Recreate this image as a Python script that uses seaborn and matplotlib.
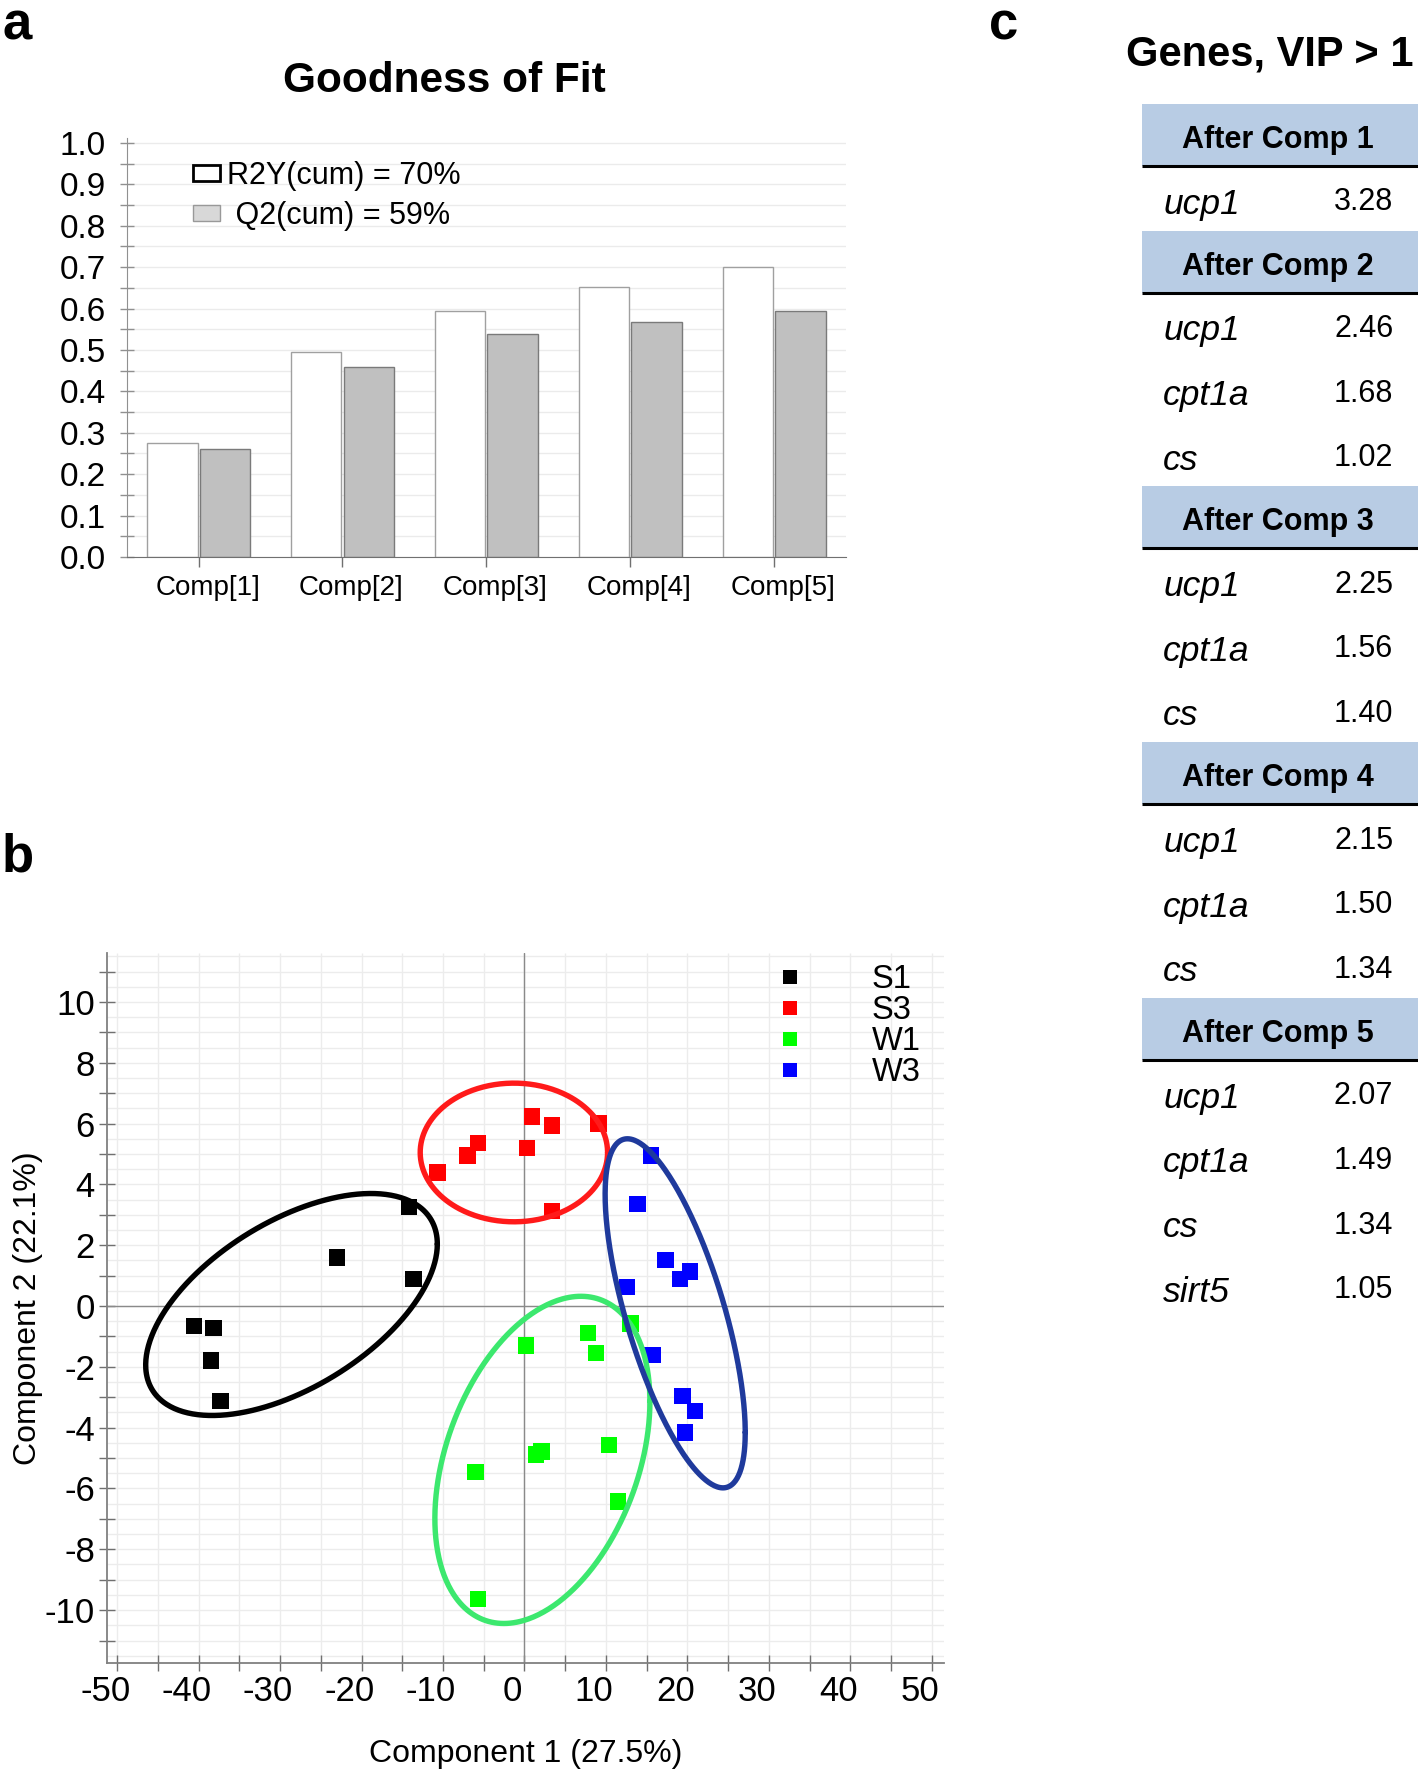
import numpy as np
import pandas as pd
import matplotlib
matplotlib.use('Agg')
import matplotlib.pyplot as plt
import matplotlib.transforms as mtransforms
from matplotlib.patches import Patch, Rectangle
from matplotlib.lines import Line2D
from matplotlib.ticker import MultipleLocator
import seaborn as sns

# pannello a: goodness of fit
components = ['Comp[1]', 'Comp[2]', 'Comp[3]', 'Comp[4]', 'Comp[5]']
r2y_cum = [0.275, 0.494, 0.594, 0.652, 0.700]
q2_cum = [0.261, 0.459, 0.539, 0.567, 0.594]
fit_labels = ['R2Y(cum) = 70%', ' Q2(cum) = 59%']

# pannello b: score plot
groups = ['S1', 'S3', 'W1', 'W3']
s1_x = [-40.6, -38.2, -38.5, -37.3, -23.0, -14.2, -13.6]
s1_y = [-0.66, -0.73, -1.79, -3.13, 1.59, 3.25, 0.88]
s3_x = [-10.7, -7.0, -5.7, 0.3, 0.9, 3.35, 9.1, 3.35]
s3_y = [4.39, 4.95, 5.36, 5.20, 6.23, 5.93, 6.00, 3.13]
w1_x = [0.2, 7.8, 8.8, 13.0, 1.4, 2.1, 10.4, 11.5, -6.0, -5.7]
w1_y = [-1.30, -0.89, -1.54, -0.57, -4.88, -4.78, -4.57, -6.43, -5.45, -9.63]
w3_x = [15.5, 13.9, 17.3, 20.3, 19.1, 12.6, 15.7, 19.4, 20.9, 19.7]
w3_y = [4.95, 3.36, 1.52, 1.13, 0.88, 0.63, -1.61, -2.96, -3.45, -4.16]
x_label = 'Component 1 (27.5%)'
y_label = 'Component 2 (22.1%)'

# ellissi disegnate a mano: centro, semi-estensioni, fase (gradi)
ell_cx = [-28.6, -1.3, 2.2, 18.5]
ell_cy = [0.05, 5.05, -5.06, -0.24]
ell_ax = [17.9, 11.5, 13.2, 8.6]
ell_ay = [3.65, 2.28, 5.38, 5.74]
ell_phase = [57, 90, 69, 133]

# pannello c: tabella VIP
table_title = 'Genes, VIP > 1'
sections = ['After Comp 1', 'After Comp 2', 'After Comp 3', 'After Comp 4', 'After Comp 5']
vip_genes = [['ucp1'],
             ['ucp1', 'cpt1a', 'cs'],
             ['ucp1', 'cpt1a', 'cs'],
             ['ucp1', 'cpt1a', 'cs'],
             ['ucp1', 'cpt1a', 'cs', 'sirt5']]
vip_values = [[3.28],
              [2.46, 1.68, 1.02],
              [2.25, 1.56, 1.40],
              [2.15, 1.50, 1.34],
              [2.07, 1.49, 1.34, 1.05]]

marker_colors = ['#000000', '#ff0000', '#00ff00', '#0000ff']
ellipse_colors = ['#000000', '#ff1a1a', '#3ce86e', '#1f3a9c']

sns.set_style('white')
plt.rcParams['font.family'] = ['Liberation Sans', 'DejaVu Sans']
plt.rcParams['axes.unicode_minus'] = False
plt.rcParams['text.color'] = 'black'
plt.rcParams['axes.labelcolor'] = 'black'
plt.rcParams['xtick.labelcolor'] = 'black'
plt.rcParams['ytick.labelcolor'] = 'black'

W, H = 1418, 1773
fig = plt.figure(figsize=(W / 100, H / 100), dpi=100)

###PANNELLO A
ax_a = fig.add_axes([126.7 / W, 1 - 557 / H, (846 - 126.7) / W, (557 - 138) / H])
fit = pd.DataFrame({
    'comp': components * 2,
    'value': r2y_cum + q2_cum,
    'metric': [fit_labels[0]] * len(components) + [fit_labels[1]] * len(components),
})
sns.barplot(data=fit, x='comp', y='value', hue='metric', palette=['white', '#c0c0c0'],
            saturation=1, width=0.73, gap=0.04, legend=False, ax=ax_a, zorder=2)
n = len(components)
for i, p in enumerate(ax_a.patches[:2 * n]):
    if i < n:
        p.set_edgecolor('#a0a0a0')
    else:
        p.set_edgecolor('#7a7a7a')
    p.set_linewidth(1.0)

ax_a.set_xlim(-0.5, 4.5)
ax_a.set_ylim(0, 1.012)
ax_a.yaxis.set_major_locator(MultipleLocator(0.1))
ax_a.yaxis.set_minor_locator(MultipleLocator(0.05))
ax_a.yaxis.set_major_formatter(matplotlib.ticker.FormatStrFormatter('%.1f'))
ax_a.grid(True, which='both', axis='y', color='#ebebeb', lw=1.0, zorder=0)
ax_a.set_axisbelow(True)
ax_a.set_xlabel('')
ax_a.set_ylabel('')
for s in ['top', 'right']:
    ax_a.spines[s].set_visible(False)
ax_a.spines['left'].set_color('#909090')
ax_a.spines['bottom'].set_color('#707070')
ax_a.tick_params(axis='y', which='both', direction='inout', length=10, width=1,
                 color='#909090', labelsize=24, pad=10, left=True)
ax_a.tick_params(axis='x', direction='out', length=7, width=1, color='#707070',
                 labelsize=20, pad=6, bottom=True)
shift_a = mtransforms.ScaledTranslation(9 / 100, 0, fig.dpi_scale_trans)
for lab in ax_a.get_xticklabels():
    lab.set_transform(lab.get_transform() + shift_a)

handles_a = [Patch(facecolor='white', edgecolor='black', lw=2.0),
             Patch(facecolor='#d8d8d8', edgecolor='#999999', lw=1.0)]
ax_a.legend(handles_a, fit_labels, loc='upper left', bbox_to_anchor=(0.092, 0.945),
            frameon=False, fontsize=22, handlelength=0.88, handleheight=0.43,
            handletextpad=0.25, labelspacing=0.32, borderpad=0, borderaxespad=0)
fig.text(444 / W, 1 - 81 / H, 'Goodness of Fit', ha='center', va='center',
         fontsize=30.5, fontweight='bold')

###PANNELLO B
ax_b = fig.add_axes([107.4 / W, 1 - 1662.7 / H, (944 - 107.4) / W, (1662.7 - 953.3) / H])
scores = pd.DataFrame({
    'x': s1_x + s3_x + w1_x + w3_x,
    'y': s1_y + s3_y + w1_y + w3_y,
    'group': ['S1'] * len(s1_x) + ['S3'] * len(s3_x) + ['W1'] * len(w1_x) + ['W3'] * len(w3_x),
})
ax_b.set_xlim(-51.2, 51.5)
ax_b.set_ylim(-11.73, 11.6)

# griglia fine
ax_b.hlines(np.arange(-11.5, 11.6, 0.5), -51.2, 51.5, color='#ececec', lw=1.0, zorder=0)
ax_b.vlines(np.arange(-50, 51, 5), -11.73, 11.6, color='#ececec', lw=1.0, zorder=0)
ax_b.axhline(0, color='#8a8a8a', lw=1.0, zorder=1)
ax_b.axvline(0, color='#8a8a8a', lw=1.0, zorder=1)

sns.scatterplot(data=scores, x='x', y='y', hue='group', hue_order=groups,
                palette=marker_colors, marker='s', s=140, linewidth=0,
                legend=False, ax=ax_b, zorder=3)

t = np.linspace(0, 2 * np.pi, 400)
for cx, cy, a, b, ph, col in zip(ell_cx, ell_cy, ell_ax, ell_ay, ell_phase, ellipse_colors):
    ax_b.plot(cx + a * np.cos(t), cy + b * np.cos(t + np.radians(ph)),
              color=col, lw=3.9, zorder=4)

ax_b.set_xticks(np.arange(-50, 51, 10))
ax_b.set_xticks(np.arange(-45, 50, 10), minor=True)
ax_b.set_yticks(np.arange(-10, 11, 2))
ax_b.set_yticks(np.arange(-11, 12, 2), minor=True)
for s in ['top', 'right']:
    ax_b.spines[s].set_visible(False)
for s in ['left', 'bottom']:
    ax_b.spines[s].set_color('#808080')
    ax_b.spines[s].set_linewidth(1.3)
ax_b.tick_params(which='both', direction='inout', length=12, width=1, color='#707070',
                 left=True, bottom=True)
ax_b.tick_params(which='major', labelsize=25)
ax_b.tick_params(axis='x', pad=3)
ax_b.tick_params(axis='y', pad=3)
shift = mtransforms.ScaledTranslation(-12 / 100, 0, fig.dpi_scale_trans)
for lab in ax_b.get_xticklabels():
    lab.set_transform(lab.get_transform() + shift)

ax_b.set_xlabel(x_label, fontsize=23, va='top')
ax_b.set_ylabel(y_label, fontsize=23)
ax_b.xaxis.set_label_coords(0.5, -0.108)
ax_b.yaxis.set_label_coords(-0.077, 0.5)

handles_b = [Line2D([], [], marker='s', ls='', color=c, markersize=10.6, markeredgewidth=0)
             for c in marker_colors]
ax_b.legend(handles_b, groups, loc='upper left', bbox_to_anchor=(0.7964, 0.985),
            frameon=False, fontsize=23.5, handlelength=1.0, handletextpad=2.0,
            labelspacing=0.0, borderpad=0, borderaxespad=0)

###PANNELLO C
ax_c = fig.add_axes([1100 / W, 0, (W - 1100) / W, 1])
ax_c.set_xlim(1100, W)
ax_c.set_ylim(H, 0)
ax_c.axis('off')
ax_c.text(1414, 55, table_title, ha='right', va='center', fontsize=30, fontweight='bold')

band_left = 1141.7
hh, hd = 62, 64.6
top = 104
for sec, genes, vals in zip(sections, vip_genes, vip_values):
    ax_c.add_patch(Rectangle((band_left, top), W - band_left, hh, facecolor='#b8cce4',
                             edgecolor='none'))
    ax_c.plot([band_left, W], [top + hh, top + hh], color='black', lw=2.2,
              solid_capstyle='butt')
    ax_c.text((band_left + W) / 2 - 2, top + hh / 2 + 5, sec, ha='center', va='center',
              fontsize=22, fontweight='bold')
    top += hh
    for g, v in zip(genes, vals):
        ax_c.text(1163.3, top + hd / 2 + 6, g, ha='left', va='center', fontsize=25.5,
                  fontstyle='italic')
        ax_c.text(1393.3, top + hd / 2 + 4, f'{v:.2f}', ha='right', va='center',
                  fontsize=22)
        top += hd

# lettere dei pannelli
fig.text(2 / W, 1 - 0 / H, 'a', ha='left', va='top', fontsize=38, fontweight='bold')
fig.text(2 / W, 1 - 833 / H, 'b', ha='left', va='top', fontsize=38, fontweight='bold')
fig.text(989 / W, 1 - 0 / H, 'c', ha='left', va='top', fontsize=38, fontweight='bold')

fig.savefig('out.png', dpi=100)
